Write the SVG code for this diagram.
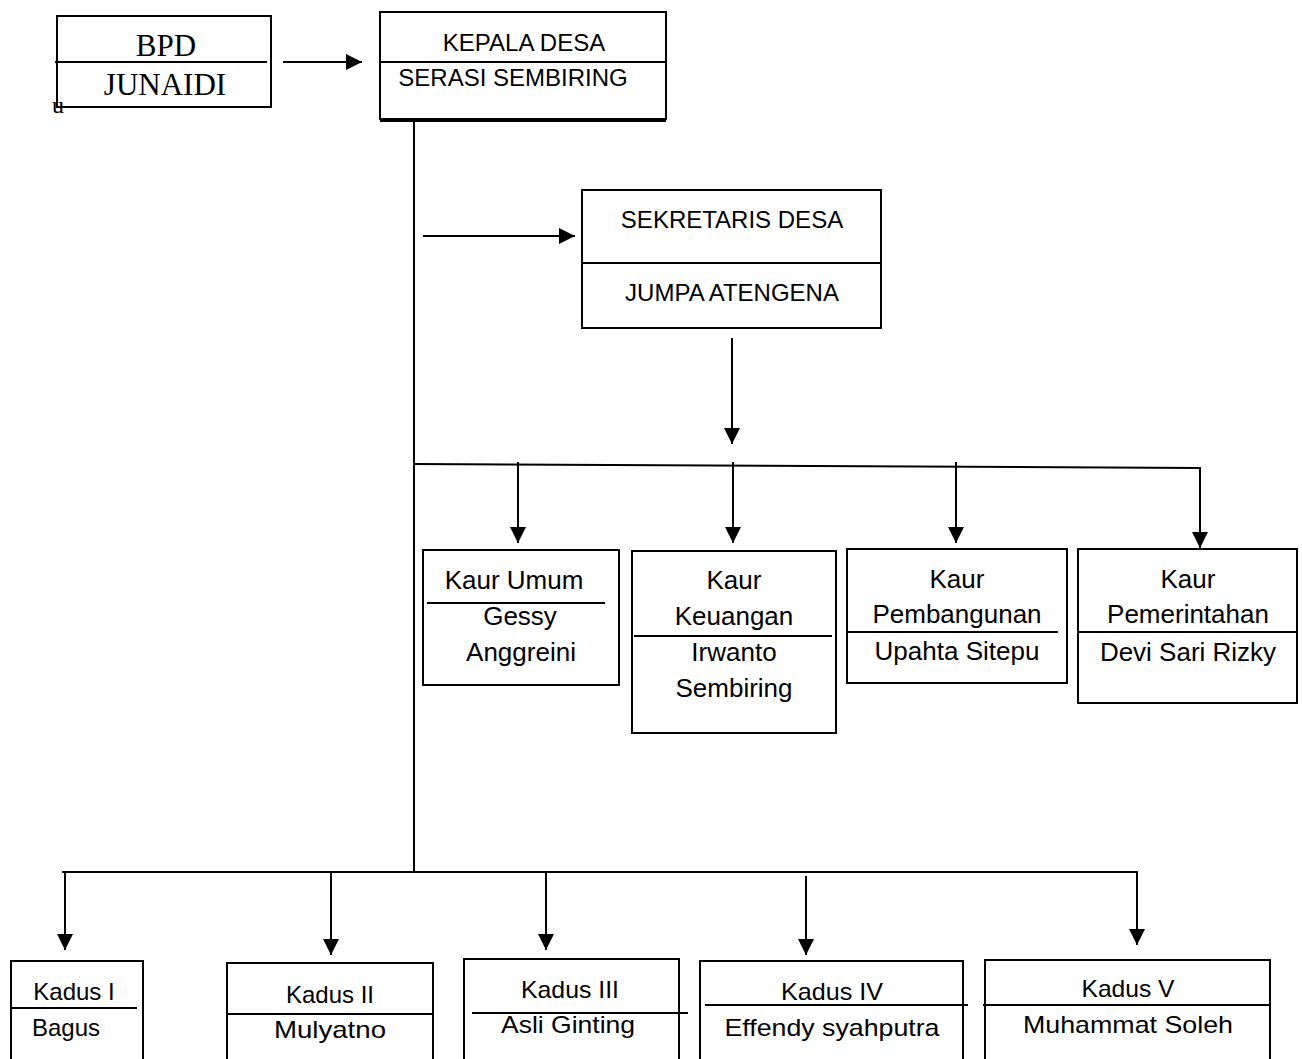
<svg xmlns="http://www.w3.org/2000/svg" width="1302" height="1059" viewBox="0 0 1302 1059">
<style>
.box{fill:#fff;stroke:#000;stroke-width:2}
.div{stroke:#000;stroke-width:2}
.t{font-family:"Liberation Sans",Arial,sans-serif;font-size:24px;fill:#000;text-anchor:middle}
.k{font-size:26px}
.s{font-family:"Liberation Serif","Times New Roman",serif;font-size:31px;fill:#000;text-anchor:middle}
.c{stroke:#000;stroke-width:2;fill:none}
</style>
<defs>
<marker id="ah" viewBox="0 0 10 10" refX="10" refY="5" markerWidth="16" markerHeight="16" markerUnits="userSpaceOnUse" orient="auto">
<path d="M0,0 L10,5 L0,10 Z" fill="#000"/>
</marker>
</defs>
<rect width="1302" height="1059" fill="#fff"/>
<g id="connectors">
<line class="c" x1="283" y1="62" x2="362" y2="62" marker-end="url(#ah)"/>
<line class="c" x1="414" y1="121" x2="414" y2="872"/>
<line class="c" x1="423" y1="236" x2="575" y2="236" marker-end="url(#ah)"/>
<line class="c" x1="732" y1="338" x2="732" y2="444" marker-end="url(#ah)"/>
<polyline class="c" points="414,464 1200,468 1200,548" marker-end="url(#ah)"/>
<line class="c" x1="518" y1="462" x2="518" y2="543" marker-end="url(#ah)"/>
<line class="c" x1="733" y1="462" x2="733" y2="543" marker-end="url(#ah)"/>
<line class="c" x1="956" y1="462" x2="956" y2="543" marker-end="url(#ah)"/>
<polyline class="c" points="62,872 1137,872 1137,945" marker-end="url(#ah)"/>
<line class="c" x1="65" y1="872" x2="65" y2="950" marker-end="url(#ah)"/>
<line class="c" x1="331" y1="872" x2="331" y2="955" marker-end="url(#ah)"/>
<line class="c" x1="546" y1="872" x2="546" y2="950" marker-end="url(#ah)"/>
<line class="c" x1="806" y1="876" x2="806" y2="955" marker-end="url(#ah)"/>
</g>
<g id="bpd">
<text x="52" y="113" font-family="Liberation Serif,serif" font-size="24">u</text>
<rect class="box" x="57" y="16" width="214" height="91" fill-opacity="0"/>
<line class="div" x1="55" y1="62" x2="267" y2="62"/>
<text class="s" x="166" y="56">BPD</text>
<text class="s" x="165" y="95">JUNAIDI</text>
</g>
<g id="kepala-desa">
<rect class="box" x="380" y="12" width="286" height="107"/>
<line class="div" x1="380" y1="121" x2="666" y2="121"/>
<line class="div" x1="380" y1="62" x2="666" y2="62"/>
<text class="t" x="524" y="51" font-size="22">KEPALA DESA</text>
<text class="t" x="513" y="86" font-size="22">SERASI SEMBIRING</text>
</g>
<g id="sekretaris-desa">
<rect class="box" x="582" y="190" width="299" height="138"/>
<line class="div" x1="582" y1="263" x2="881" y2="263"/>
<text class="t" x="732" y="228" font-size="22">SEKRETARIS DESA</text>
<text class="t" x="732" y="301" font-size="22">JUMPA ATENGENA</text>
</g>
<g id="kaur-umum">
<rect class="box" x="423" y="550" width="196" height="135"/>
<line class="div" x1="427" y1="603" x2="605" y2="603"/>
<text class="t k" x="514" y="589">Kaur Umum</text>
<text class="t k" x="520" y="625">Gessy</text>
<text class="t k" x="521" y="661">Anggreini</text>
</g>
<g id="kaur-keuangan">
<rect class="box" x="632" y="551" width="204" height="182"/>
<line class="div" x1="634" y1="636" x2="832" y2="636"/>
<text class="t k" x="734" y="589">Kaur</text>
<text class="t k" x="734" y="625">Keuangan</text>
<text class="t k" x="734" y="661">Irwanto</text>
<text class="t k" x="734" y="697">Sembiring</text>
</g>
<g id="kaur-pembangunan">
<rect class="box" x="847" y="549" width="220" height="134"/>
<line class="div" x1="847" y1="632" x2="1058" y2="632"/>
<text class="t k" x="957" y="588">Kaur</text>
<text class="t k" x="957" y="623">Pembangunan</text>
<text class="t k" x="957" y="660">Upahta Sitepu</text>
</g>
<g id="kaur-pemerintahan">
<rect class="box" x="1078" y="549" width="219" height="154"/>
<line class="div" x1="1078" y1="632" x2="1297" y2="632"/>
<text class="t k" x="1188" y="588">Kaur</text>
<text class="t k" x="1188" y="623">Pemerintahan</text>
<text class="t k" x="1188" y="661">Devi Sari Rizky</text>
</g>
<g id="kadus-1">
<rect class="box" x="11" y="961" width="132" height="110"/>
<line class="div" x1="11" y1="1008" x2="137" y2="1008"/>
<text class="t" x="74" y="1000">Kadus I</text>
<text class="t" x="66" y="1036">Bagus</text>
</g>
<g id="kadus-2">
<rect class="box" x="227" y="963" width="206" height="110"/>
<line class="div" x1="227" y1="1014" x2="433" y2="1014"/>
<text class="t" x="330" y="1003">Kadus II</text>
<text class="t" x="330" y="1038" textLength="112" lengthAdjust="spacingAndGlyphs">Mulyatno</text>
</g>
<g id="kadus-3">
<rect class="box" x="464" y="959" width="215" height="110"/>
<line class="div" x1="472" y1="1013" x2="688" y2="1013"/>
<text class="t" x="570" y="998" textLength="98" lengthAdjust="spacingAndGlyphs">Kadus III</text>
<text class="t" x="568" y="1033" textLength="134" lengthAdjust="spacingAndGlyphs">Asli Ginting</text>
</g>
<g id="kadus-4">
<rect class="box" x="700" y="961" width="263" height="110"/>
<line class="div" x1="705" y1="1005" x2="968" y2="1005"/>
<text class="t" x="832" y="1000" textLength="102" lengthAdjust="spacingAndGlyphs">Kadus IV</text>
<text class="t" x="832" y="1036" textLength="215" lengthAdjust="spacingAndGlyphs">Effendy syahputra</text>
</g>
<g id="kadus-5">
<rect class="box" x="985" y="960" width="285" height="110"/>
<line class="div" x1="983" y1="1005" x2="1270" y2="1005"/>
<text class="t" x="1128" y="997" textLength="93" lengthAdjust="spacingAndGlyphs">Kadus V</text>
<text class="t" x="1128" y="1033" textLength="210" lengthAdjust="spacingAndGlyphs">Muhammat Soleh</text>
</g>
</svg>
